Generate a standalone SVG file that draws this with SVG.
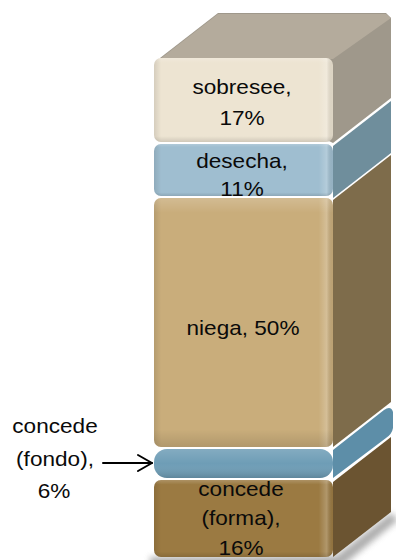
<svg xmlns="http://www.w3.org/2000/svg" width="396" height="560" viewBox="0 0 396 560">
<style>
.lbl{font-family:"Liberation Sans",Arial,sans-serif;font-size:20px;fill:#0a0a0a;text-anchor:middle}
.bev{fill:url(#bevH)}
.bevv{fill:url(#bevV)}
</style>
<defs>
<linearGradient id="bevH" x1="0" y1="0" x2="1" y2="0">
<stop offset="0" stop-color="#000" stop-opacity="0.10"/>
<stop offset="0.04" stop-color="#000" stop-opacity="0"/>
<stop offset="0.92" stop-color="#fff" stop-opacity="0"/>
<stop offset="0.965" stop-color="#fff" stop-opacity="0.22"/>
<stop offset="1" stop-color="#000" stop-opacity="0.06"/>
</linearGradient>
<linearGradient id="bevV" x1="0" y1="0" x2="0" y2="1">
<stop offset="0" stop-color="#fff" stop-opacity="0.18"/>
<stop offset="0.06" stop-color="#fff" stop-opacity="0"/>
<stop offset="0.93" stop-color="#000" stop-opacity="0"/>
<stop offset="1" stop-color="#000" stop-opacity="0.12"/>
</linearGradient>
<linearGradient id="pill" x1="0" y1="0" x2="0" y2="1">
<stop offset="0" stop-color="#fff" stop-opacity="0.15"/>
<stop offset="0.5" stop-color="#fff" stop-opacity="0"/>
<stop offset="1" stop-color="#000" stop-opacity="0.15"/>
</linearGradient>
<filter id="blur" x="-20%" y="-20%" width="140%" height="140%"><feGaussianBlur stdDeviation="3"/></filter>
</defs>

<g id="shadow">
<polygon points="336,556 391,513 398,520 342,566 150,566 150,557" fill="#777" opacity="0.6" filter="url(#blur)"/>
</g>

<g id="sobresee">
<polygon points="160,58 218,13 386,13 391,18 391,98 333,143" fill="#9f988b"/>
<polygon points="160,59 218,14 386,14 391,18 333,59" fill="#b4ab9c"/>
<rect x="154" y="58" width="179" height="84" rx="7" fill="#ede4d2"/>
<rect x="154" y="58" width="179" height="84" rx="7" class="bev"/>
<rect x="154" y="58" width="179" height="84" rx="7" class="bevv"/>
<text class="lbl" transform="matrix(1.13 0 0 1 242 0)" x="0" y="94">sobresee,</text>
<text class="lbl" transform="matrix(1.13 0 0 1 242 0)" x="0" y="125">17%</text>
</g>

<g id="desecha">
<polygon points="333,146 391,101 391,153 333,198" fill="#6f8e9c"/>
<rect x="154" y="144" width="179" height="52" rx="7" fill="#9fbed0"/>
<rect x="154" y="144" width="179" height="52" rx="7" class="bev"/>
<rect x="154" y="144" width="179" height="52" rx="7" class="bevv"/>
<text class="lbl" transform="matrix(1.13 0 0 1 242 0)" x="0" y="168">desecha,</text>
<text class="lbl" transform="matrix(1.13 0 0 1 242 0)" x="0" y="196">11%</text>
</g>

<g id="niega">
<polygon points="333,200 391,155 391,402 333,447" fill="#7e6c4b"/>
<rect x="154" y="198" width="179" height="249" rx="7" fill="#c9ad7b"/>
<rect x="154" y="198" width="179" height="249" rx="7" class="bev"/>
<rect x="154" y="198" width="179" height="249" rx="7" class="bevv"/>
<text class="lbl" transform="matrix(1.13 0 0 1 243 0)" x="0" y="335">niega, 50%</text>
</g>

<g id="fondo">
<path d="M333,450 L384,410 Q391,405 393,412 L393,428 Q392,434 386,438 L333,478 Z" fill="#5d8ea8"/>
<rect x="154" y="449" width="179" height="29" rx="13" fill="#6e9db6"/>
<rect x="154" y="449" width="179" height="29" rx="13" fill="url(#pill)"/>
</g>

<g id="forma">
<polygon points="333,482 391,437 391,512 333,557" fill="#6b5431"/>
<rect x="154" y="480" width="179" height="77" rx="7" fill="#9b7a42"/>
<rect x="154" y="480" width="179" height="77" rx="7" class="bev"/>
<rect x="154" y="480" width="179" height="77" rx="7" class="bevv"/>
<text class="lbl" transform="matrix(1.13 0 0 1 241 0)" x="0" y="496">concede</text>
<text class="lbl" transform="matrix(1.13 0 0 1 241 0)" x="0" y="525">(forma),</text>
<text class="lbl" transform="matrix(1.13 0 0 1 241 0)" x="0" y="555">16%</text>
</g>

<g id="label-fondo">
<text class="lbl" transform="matrix(1.13 0 0 1 55 0)" x="0" y="433">concede</text>
<text class="lbl" transform="matrix(1.13 0 0 1 55 0)" x="0" y="466">(fondo),</text>
<text class="lbl" transform="matrix(1.13 0 0 1 54 0)" x="0" y="498">6%</text>
</g>

<g id="connectors" fill="none" stroke="#000" stroke-width="2" stroke-linecap="round" stroke-linejoin="round">
<line x1="103" y1="463" x2="152" y2="463"/>
<polyline points="138,455 152,463 138,471"/>
</g>
</svg>
